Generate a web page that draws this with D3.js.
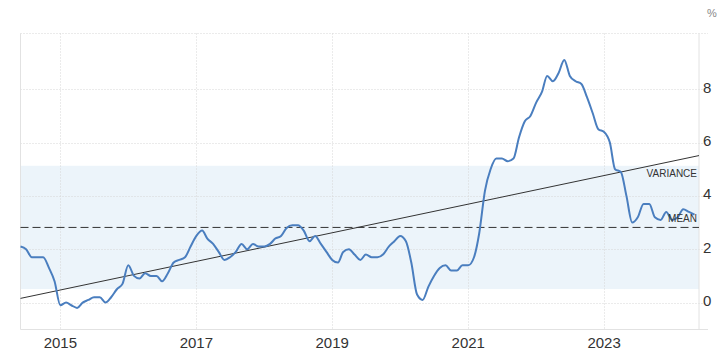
<!DOCTYPE html>
<html>
<head>
<meta charset="utf-8">
<script src="https://cdn.jsdelivr.net/npm/d3@7"></script>
<style>
  body { margin: 0; background: #fff; }
  text { font-family: Arial, "Liberation Sans", sans-serif; }
</style>
</head>
<body>
<div id="chart"></div>
<script>
// monthly inflation rate, Jun 2014 .. May 2024
let startMonth = [2014, 5]
let values = [
  2.1, 2.0, 1.7, 1.7, 1.7, 1.3, 0.8,
  -0.1, 0.0, -0.1, -0.2, 0.0, 0.1, 0.2, 0.2, 0.0, 0.2, 0.5, 0.7,
  1.4, 1.0, 0.9, 1.1, 1.0, 1.0, 0.8, 1.1, 1.5, 1.6, 1.7, 2.1,
  2.5, 2.7, 2.4, 2.2, 1.9, 1.6, 1.7, 1.9, 2.2, 2.0, 2.2, 2.1,
  2.1, 2.2, 2.4, 2.5, 2.8, 2.9, 2.9, 2.7, 2.3, 2.5, 2.2, 1.9,
  1.6, 1.5, 1.9, 2.0, 1.8, 1.6, 1.8, 1.7, 1.7, 1.8, 2.1, 2.3,
  2.5, 2.3, 1.5, 0.3, 0.1, 0.6, 1.0, 1.3, 1.4, 1.2, 1.2, 1.4,
  1.4, 1.7, 2.6, 4.2, 5.0, 5.4, 5.4, 5.3, 5.4, 6.2, 6.8, 7.0,
  7.5, 7.9, 8.5, 8.3, 8.6, 9.1, 8.5, 8.3, 8.2, 7.7, 7.1, 6.5,
  6.4, 6.0, 5.0, 4.9, 4.0, 3.0, 3.2, 3.7, 3.7, 3.2, 3.1, 3.4,
  3.1, 3.2, 3.5, 3.4, 3.3
]
let yearTicks = [2015, 2017, 2019, 2021, 2023]
let yTicks = [0, 2, 4, 6, 8]

let data = values.map((v, i) => ({ date: new Date(startMonth[0], startMonth[1] + i, 1), value: v }))

let width = 725
let height = 362
let pLeft = 20.5, pRight = 699, pTop = 33.5, pBottom = 329.5

let x = d3.scaleTime()
    .domain([new Date(2014, 5, 1), new Date(2024, 4, 25)])
    .range([pLeft, pRight])
let y = d3.scaleLinear()
    .domain([-1.01, 10.09])
    .range([pBottom, pTop])

let svg = d3.select('#chart')
    .append('svg')
    .attr('width', width)
    .attr('height', height)

// mean / deviation band
let mean = d3.mean(values)
let sd = d3.deviation(values)

svg.append('rect')
    .attr('x', pLeft)
    .attr('y', y(mean + sd))
    .attr('width', pRight - pLeft)
    .attr('height', y(mean - sd) - y(mean + sd))
    .attr('fill', '#ecf4fa')

// grid
svg.append('g').selectAll('line')
    .data(yTicks)
    .enter().append('line')
    .attr('x1', pLeft).attr('x2', 708)
    .attr('y1', d => Math.round(y(d)) + 0.5).attr('y2', d => Math.round(y(d)) + 0.5)
    .attr('stroke', '#d6d6d6')
    .attr('stroke-dasharray', '1,2')

svg.append('line')
    .attr('x1', pLeft).attr('x2', 708)
    .attr('y1', pTop).attr('y2', pTop)
    .attr('stroke', '#d6d6d6')
    .attr('stroke-dasharray', '1,2')

svg.append('g').selectAll('line')
    .data(yearTicks)
    .enter().append('line')
    .attr('x1', d => Math.round(x(new Date(d, 0, 1))) + 0.5)
    .attr('x2', d => Math.round(x(new Date(d, 0, 1))) + 0.5)
    .attr('y1', pTop).attr('y2', pBottom)
    .attr('stroke', '#d6d6d6')
    .attr('stroke-dasharray', '1,2')

// frame
svg.append('line')
    .attr('x1', pLeft).attr('x2', pLeft)
    .attr('y1', pTop).attr('y2', pBottom)
    .attr('stroke', '#e2e2e2')
svg.append('line')
    .attr('x1', pRight).attr('x2', pRight)
    .attr('y1', pTop).attr('y2', pBottom)
    .attr('stroke', '#e2e2e2')
svg.append('line')
    .attr('x1', pLeft).attr('x2', 708)
    .attr('y1', pBottom).attr('y2', pBottom)
    .attr('stroke', '#e2e2e2')

// mean line
svg.append('line')
    .attr('x1', pLeft).attr('x2', pRight)
    .attr('y1', y(mean)).attr('y2', y(mean))
    .attr('stroke', '#333')
    .attr('stroke-width', 1)
    .attr('stroke-dasharray', '8,4')

// linear trend
let xs = data.map(d => +d.date)
let mx = d3.mean(xs)
let slope = d3.sum(data, d => (+d.date - mx) * (d.value - mean)) / d3.sum(xs, t => (t - mx) * (t - mx))
let trend = t => mean + slope * (t - mx)
let [d0, d1] = x.domain()
svg.append('line')
    .attr('x1', x(d0)).attr('y1', y(trend(+d0)))
    .attr('x2', x(d1)).attr('y2', y(trend(+d1)))
    .attr('stroke', '#333')
    .attr('stroke-width', 1)

// series
let line = d3.line()
    .x(d => x(d.date))
    .y(d => y(d.value))
    .curve(d3.curveMonotoneX)

svg.append('path')
    .datum(data)
    .attr('d', line)
    .attr('fill', 'none')
    .attr('stroke', '#4a7ebf')
    .attr('stroke-width', 2)

// labels
svg.append('text')
    .attr('x', 697).attr('y', y(mean + sd) + 11)
    .attr('text-anchor', 'end')
    .attr('font-size', 10)
    .attr('fill', '#333')
    .text('VARIANCE')
svg.append('text')
    .attr('x', 697).attr('y', y(mean) - 5)
    .attr('text-anchor', 'end')
    .attr('font-size', 10)
    .attr('fill', '#333')
    .text('MEAN')

// axes text
svg.append('g').selectAll('text')
    .data(yTicks)
    .enter().append('text')
    .attr('x', 703)
    .attr('y', d => y(d) + 3.5)
    .attr('font-size', 15)
    .attr('fill', '#333')
    .text(d => d)

svg.append('g').selectAll('text')
    .data(yearTicks)
    .enter().append('text')
    .attr('x', d => x(new Date(d, 0, 1)))
    .attr('y', 347.5)
    .attr('text-anchor', 'middle')
    .attr('font-size', 15)
    .attr('fill', '#333')
    .text(d => d)

svg.append('text')
    .attr('x', 707).attr('y', 17)
    .attr('font-size', 11)
    .attr('fill', '#888')
    .text('%')
</script>
</body>
</html>
